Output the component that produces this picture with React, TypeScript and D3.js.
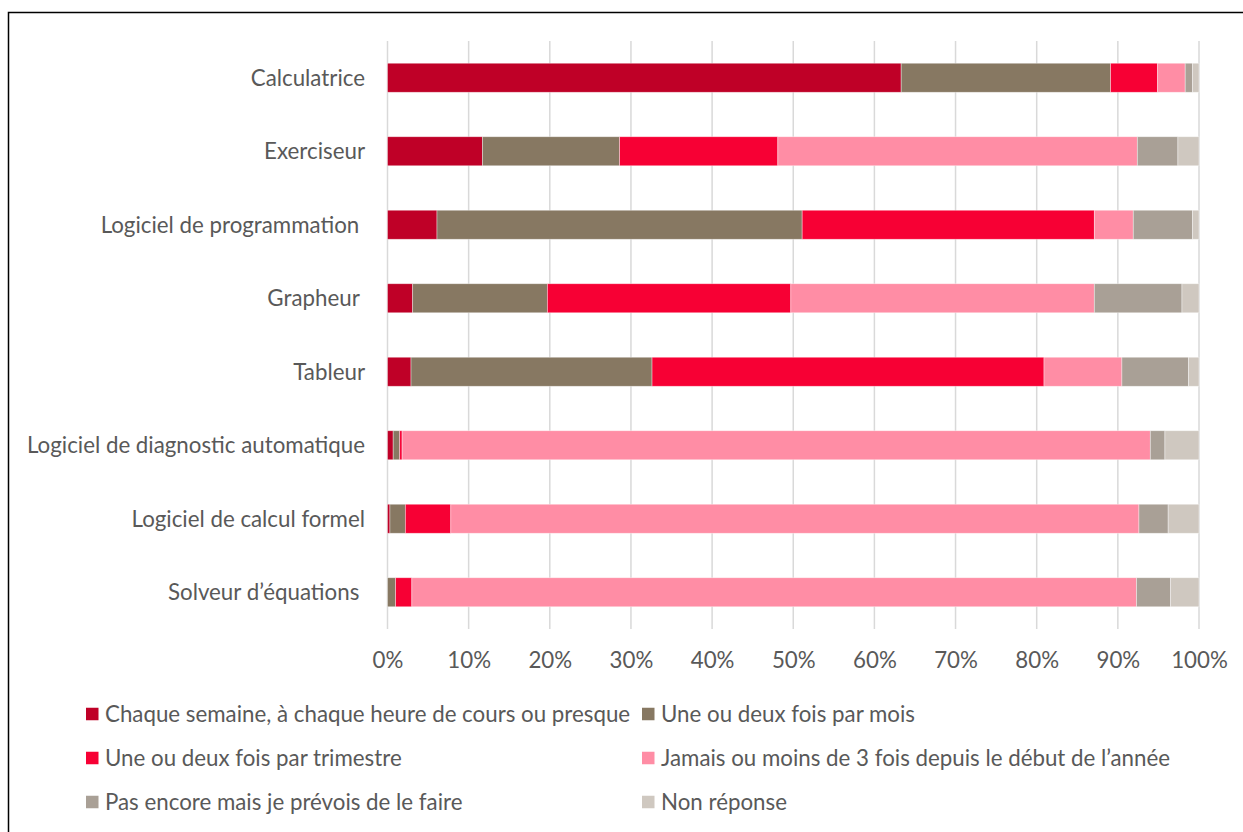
import * as d3 from "d3";
import { useEffect, useRef } from "react";

const categories = [
  "Calculatrice",
  "Exerciseur",
  "Logiciel de programmation ",
  "Grapheur ",
  "Tableur",
  "Logiciel de diagnostic automatique",
  "Logiciel de calcul formel",
  "Solveur d’équations ",
];

const seriesNames = [
  "Chaque semaine, à chaque heure de cours ou presque",
  "Une ou deux fois par mois",
  "Une ou deux fois par trimestre",
  "Jamais ou moins de 3 fois depuis le début de l’année",
  "Pas encore mais je prévois de le faire",
  "Non réponse",
];

const chaqueSemaine = [63.3, 11.7, 6.1, 3.1, 2.9, 0.7, 0.3, 0];
const parMois = [25.8, 16.9, 45.0, 16.6, 29.7, 0.8, 1.9, 1.0];
const parTrimestre = [5.8, 19.5, 36.0, 30.0, 48.3, 0.3, 5.6, 2.0];
const jamais = [3.4, 44.3, 4.8, 37.4, 9.6, 92.2, 84.8, 89.3];
const pasEncore = [0.9, 5.0, 7.3, 10.8, 8.2, 1.8, 3.6, 4.2];
const nonReponse = [0.8, 2.6, 0.8, 2.1, 1.3, 4.2, 3.8, 3.5];

const xTicks = [0, 10, 20, 30, 40, 50, 60, 70, 80, 90, 100];

const colors = ["#BF0027", "#877862", "#F70034", "#FF8DA5", "#A9A096", "#CFC8C0"];

const FONT = "Lato, 'Open Sans', sans-serif";
const FONT_SIZE = 22.3;
const TEXT = "#595959";

const App = () => {
  const svgRef = useRef<SVGSVGElement>(null);

  useEffect(() => {
    const allSeries = [chaqueSemaine, parMois, parTrimestre, jamais, pasEncore, nonReponse];
    const rows = categories.map((c, i) => {
      const row: any = { cat: c };
      seriesNames.forEach((s, j) => (row[s] = allSeries[j][i]));
      return row;
    });

    const svg = d3.select(svgRef.current);
    svg.selectAll("*").remove();

    // outer frame
    svg
      .append("rect")
      .attr("x", 8.5)
      .attr("y", 12.5)
      .attr("width", 1260)
      .attr("height", 840)
      .attr("fill", "#fff")
      .attr("stroke", "#000")
      .attr("stroke-width", 1.5);

    const x = d3.scaleLinear().domain([0, 100]).range([387.5, 1199]);
    const y = d3
      .scaleBand()
      .domain(categories)
      .range([41, 629])
      .paddingInner(0.605)
      .paddingOuter(0.3025);

    // gridlines
    svg
      .append("g")
      .selectAll("line")
      .data(xTicks)
      .join("line")
      .attr("x1", (d) => x(d))
      .attr("x2", (d) => x(d))
      .attr("y1", 41)
      .attr("y2", 629)
      .attr("stroke", "#D9D9D9")
      .attr("stroke-width", 1.5);

    const stacked = d3.stack<any>().keys(seriesNames)(rows);

    svg
      .append("g")
      .selectAll("g")
      .data(stacked)
      .join("g")
      .attr("fill", (_d, i) => colors[i])
      .selectAll("rect")
      .data((d) => d)
      .join("rect")
      .attr("x", (d) => x(d[0]))
      .attr("y", (d) => y(d.data.cat) as number)
      .attr("width", (d) => x(d[1]) - x(d[0]))
      .attr("height", y.bandwidth())
      .attr("stroke", "#fff")
      .attr("stroke-opacity", 0.5)
      .attr("stroke-width", 0.75);

    // category labels
    svg
      .append("g")
      .selectAll("text")
      .data(categories)
      .join("text")
      .attr("x", 365)
      .attr("y", (d) => (y(d) as number) + y.bandwidth() / 2)
      .attr("dy", "0.35em")
      .attr("text-anchor", "end")
      .style("white-space", "pre")
      .attr("font-family", FONT)
      .attr("font-size", FONT_SIZE)
      .attr("fill", TEXT)
      .text((d) => d);

    // x axis labels
    const xAxis = d3
      .axisBottom(x)
      .tickValues(xTicks)
      .tickSize(0)
      .tickPadding(23)
      .tickFormat((d) => `${d}%`);
    const axisG = svg.append("g").attr("transform", "translate(0,629)").call(xAxis);
    axisG.select(".domain").remove();
    axisG
      .selectAll("text")
      .attr("font-family", FONT)
      .attr("font-size", FONT_SIZE)
      .attr("fill", TEXT);

    // legend
    const legendCols = [86, 642];
    const legendRows = [714, 758, 802];
    const legend = svg
      .append("g")
      .selectAll("g")
      .data(seriesNames)
      .join("g")
      .attr(
        "transform",
        (_d, i) => `translate(${legendCols[i % 2]},${legendRows[Math.floor(i / 2)]})`
      );
    legend
      .append("rect")
      .attr("x", 0)
      .attr("y", -6.25)
      .attr("width", 12.5)
      .attr("height", 12.5)
      .attr("fill", (_d, i) => colors[i]);
    legend
      .append("text")
      .attr("x", 19)
      .attr("y", 0)
      .attr("dy", "0.35em")
      .attr("font-family", FONT)
      .attr("font-size", FONT_SIZE)
      .attr("fill", TEXT)
      .text((d) => d);
  }, []);

  return (
    <svg
      ref={svgRef}
      width={1243}
      height={832}
      style={{ position: "absolute", left: 0, top: 0, background: "#fff" }}
    />
  );
};

export default App;
